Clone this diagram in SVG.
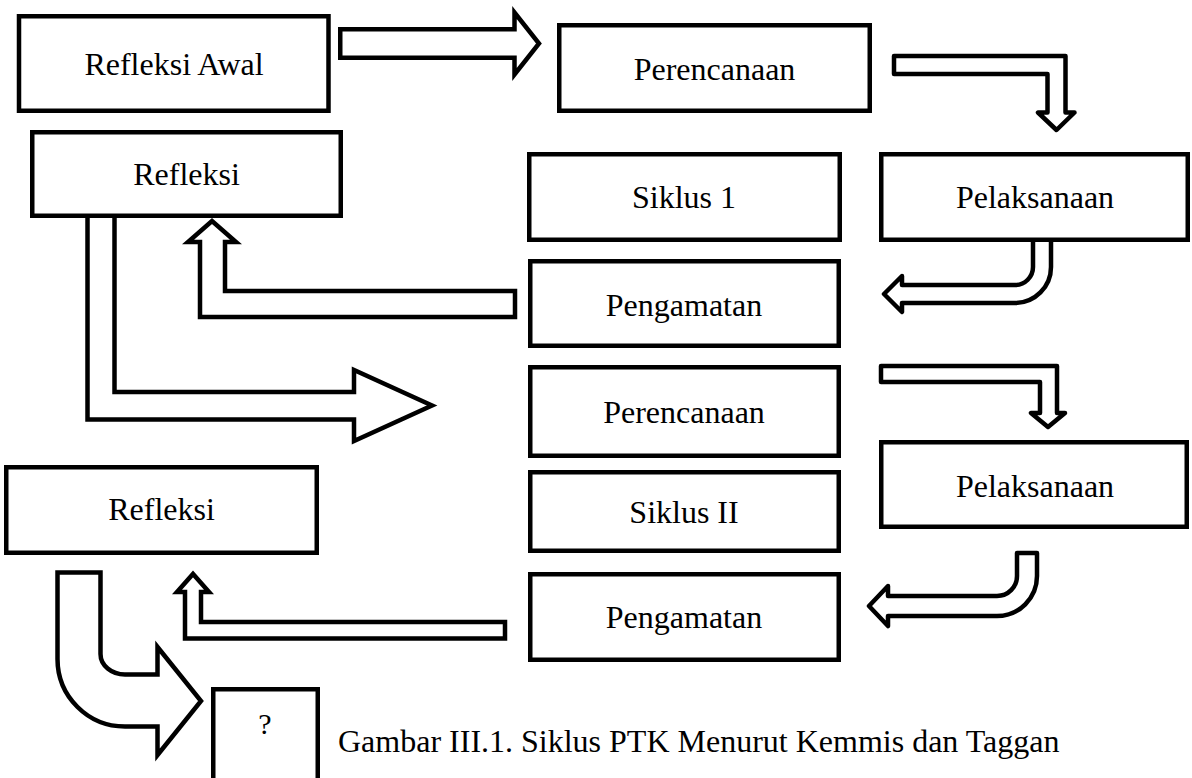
<svg xmlns="http://www.w3.org/2000/svg" width="1192" height="778" viewBox="0 0 1192 778">
<style>
.box{fill:#fff;stroke:#000;stroke-width:4.5}
.arr{fill:#fff;stroke:#000;stroke-width:4.5;stroke-linejoin:miter}
.arr-r{fill:#fff;stroke:#000;stroke-width:4.5;stroke-linejoin:round}
.lbl{font-family:"Liberation Serif","Times New Roman",serif;font-size:32px;text-anchor:middle;fill:#000}
.cap{font-family:"Liberation Serif","Times New Roman",serif;font-size:32px;fill:#000}
</style>
<rect width="1192" height="778" fill="#fff"/>
<g id="connectors">
  <polygon class="arr" points="340.25,29.25 514.5,29.25 514.5,12.5 539,43.5 514.5,74.5 514.5,57.75 340.25,57.75"/>
  <polygon class="arr-r" points="894,56 1065.5,56 1065.5,112.5 1074.5,112.5 1056.5,130 1038,112.5 1047.5,112.5 1047.5,74 894,74"/>
  <path class="arr-r" d="M1033 238 L1033 267 A18 18 0 0 1 1015 285 L902 285 L902 276 L884 294 L902 312 L902 303 L1015 303 A36 36 0 0 0 1051 267 L1051 238 Z"/>
  <polygon class="arr" points="515,291 225,291 225,242 236,242 212,221 188,242 200,242 200,317 515,317"/>
  <polygon class="arr" points="87.5,214 87.5,419.5 354,419.5 354,441 432,405.5 354,370 354,392 114.5,392 114.5,214"/>
  <polygon class="arr-r" points="881,366 1057,366 1057,413 1065,413 1048,427 1031,413 1040,413 1040,382 881,382"/>
  <path class="arr-r" d="M1017 553 L1017 576 A20 20 0 0 1 997 596 L888 596 L888 586 L869 606 L888 626 L888 616 L997 616 A40 40 0 0 0 1037 576 L1037 553 Z"/>
  <polygon class="arr" points="505,622 201,622 201,592 209,592 193,574 177,592 185,592 185,638.5 505,638.5"/>
  <path class="arr" d="M57.5 572.5 L100.5 572.5 L100.5 654 A24.5 20.5 0 0 0 125 674.5 L157.5 674.5 L157.5 647 L201 701 L157.5 755 L157.5 726.5 L125 726.5 A67.5 67.5 0 0 1 57.5 659 Z"/>
</g>
<g id="refleksi-awal">
  <rect class="box" x="19" y="16.25" width="309.5" height="94.5"/>
  <text class="lbl" x="174" y="75">Refleksi Awal</text>
</g>
<g id="perencanaan-1">
  <rect class="box" x="559.25" y="25.25" width="310.5" height="85.5"/>
  <text class="lbl" x="714.5" y="80">Perencanaan</text>
</g>
<g id="refleksi-1">
  <rect class="box" x="32.25" y="132.25" width="308.5" height="83.5"/>
  <text class="lbl" x="186.5" y="185">Refleksi</text>
</g>
<g id="siklus-1">
  <rect class="box" x="529.25" y="154.25" width="310.5" height="85.5"/>
  <text class="lbl" x="684" y="208">Siklus 1</text>
</g>
<g id="pelaksanaan-1">
  <rect class="box" x="881.25" y="154.25" width="306.5" height="85.5"/>
  <text class="lbl" x="1035" y="208">Pelaksanaan</text>
</g>
<g id="pengamatan-1">
  <rect class="box" x="530.25" y="261.25" width="308.5" height="84.5"/>
  <text class="lbl" x="684" y="316">Pengamatan</text>
</g>
<g id="perencanaan-2">
  <rect class="box" x="530.25" y="367.25" width="308.5" height="88.5"/>
  <text class="lbl" x="684" y="423">Perencanaan</text>
</g>
<g id="pelaksanaan-2">
  <rect class="box" x="881.25" y="442.25" width="305.5" height="84.5"/>
  <text class="lbl" x="1035" y="497">Pelaksanaan</text>
</g>
<g id="siklus-2">
  <rect class="box" x="530.25" y="472.25" width="308.5" height="78.5"/>
  <text class="lbl" x="684" y="523">Siklus II</text>
</g>
<g id="refleksi-2">
  <rect class="box" x="6.25" y="467.25" width="310.5" height="85.5"/>
  <text class="lbl" x="161.5" y="520">Refleksi</text>
</g>
<g id="pengamatan-2">
  <rect class="box" x="530.25" y="574.25" width="308.5" height="85.5"/>
  <text class="lbl" x="684" y="628">Pengamatan</text>
</g>
<g id="tanya">
  <rect class="box" x="213.25" y="689.25" width="104.5" height="100"/>
  <text class="lbl" x="265" y="734" style="font-size:30px">?</text>
</g>
<g id="caption">
  <text class="cap" x="338" y="752">Gambar III.1. Siklus PTK Menurut Kemmis dan Taggan</text>
</g>
</svg>
